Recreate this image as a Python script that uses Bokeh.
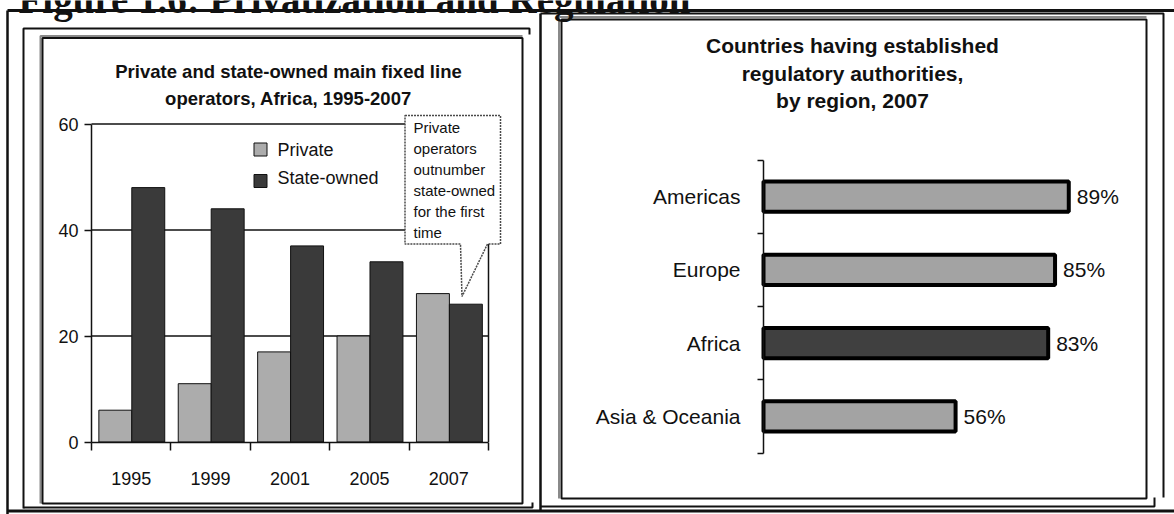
from bokeh.plotting import figure
from bokeh.models import Range1d, LinearAxis, FixedTicker, ColumnDataSource
from bokeh.transform import dodge
from bokeh.core.properties import value
from bokeh.embed import file_html
from bokeh.resources import INLINE

# ---------------- data ----------------
years = ["1995", "1999", "2001", "2005", "2007"]
series_names = ["Private", "State-owned"]
private_ops = [6, 11, 17, 20, 28]
state_ops = [48, 44, 37, 34, 26]
ops_ticks = [0, 20, 40, 60]

regions = ["Americas", "Europe", "Africa", "Asia & Oceania"]
regulator_share = [89, 85, 83, 56]
share_labels = [f"{v}%" for v in regulator_share]

fig_title = "Figure 1.6: Privatization and Regulation"
left_title = ["Private and state-owned main fixed line", "operators, Africa, 1995-2007"]
right_title = ["Countries having established", "regulatory authorities,", "by region, 2007"]
note_lines = ["Private", "operators", "outnumber", "state-owned", "for the first", "time"]

# ---------------- style ----------------
W, H = 1174, 514
SANS = "Liberation Sans"
SERIF = "Liberation Serif"
INK = "#111111"
LIGHT = "#acacac"
DARK = "#3a3a3a"
BAR_LIGHT = "#a3a3a3"
BAR_DARK = "#404040"


def mapped_range(v0, v1, px0, px1, total):
    """Range over the whole canvas that puts value v0 at pixel px0 and v1 at px1
    (pixels counted from the start side of the range)."""
    k = (px1 - px0) / (v1 - v0)
    start = v0 - px0 / k
    return Range1d(start=start, end=start + total / k)


# page canvas in pixel units (y grows downwards) for the frames and captions
p = figure(width=W, height=H, x_range=Range1d(0, W), y_range=Range1d(H, 0),
           x_axis_type=None, y_axis_type=None, output_backend="svg",
           toolbar_location=None, min_border=0)
p.title.visible = False
p.outline_line_color = None
p.background_fill_color = "white"
p.border_fill_color = "white"

n = len(years)
m = len(regions)

# data ranges of the two charts, laid onto their panels
p.extra_x_ranges = {
    "lx": mapped_range(0, n, 91, 488, W),
    "rx": mapped_range(0, 100, 763, 763 + 343, W),
}
p.extra_y_ranges = {
    "ly": mapped_range(0, ops_ticks[-1], H - 441.5, H - 123.5, H),
    "ry": mapped_range(0, m, H - 452.5, H - 159.5, H),
}

# ---------------- page frames ----------------
frame = ColumnDataSource(dict(
    xs=[[7, 1174], [7, 7], [7, 1174],
        [529, 529, 23, 23], [23, 532, 532],
        [540, 540], [540, 1163, 1163], [540, 1154, 1154]],
    ys=[[10, 10], [10, 514], [510.5, 510.5],
        [34, 28, 28, 508], [507, 507, 502],
        [510, 13], [13, 13, 497], [506, 506, 497]],
    lw=[3, 2.5, 3, 2, 2, 2.5, 2, 2],
))
p.multi_line(xs="xs", ys="ys", line_width="lw", line_color=INK, source=frame)

# panel boxes: grey rule outside, black rule inside
p.multi_line(xs=[[40, 40, 522], [558.5, 558.5, 1146]],
             ys=[[503, 35.5, 35.5], [498, 16.5, 16.5]],
             line_color="#8a8a8a", line_width=2)
p.quad(left=[42, 561], right=[522, 1146], top=[37.5, 19], bottom=[503, 498],
       fill_color=None, line_color=INK, line_width=2)

# figure caption, running off the top of the page
p.text(x=[18], y=[-1], text=[fig_title], text_font=value(SERIF),
       text_font_size="39px", text_font_style="bold", text_baseline="alphabetic",
       text_color=INK)

# ---------------- left chart: operators ----------------
p.text(x=[288, 288], y=[71, 97.5], text=left_title, text_font=value(SANS),
       text_font_size="18.5px", text_font_style="bold", text_align="center",
       text_baseline="middle", text_color=INK)

grid_vals = ops_ticks[1:]
p.segment(x0=[0] * len(grid_vals), x1=[n] * len(grid_vals), y0=grid_vals, y1=grid_vals,
          x_range_name="lx", y_range_name="ly", line_color=INK, line_width=1.5)
p.segment(x0=[n], x1=[n], y0=[0], y1=[ops_ticks[-1]],
          x_range_name="lx", y_range_name="ly", line_color=INK, line_width=1.5)

ops = ColumnDataSource(dict(pos=list(range(n)), private=private_ops, state=state_ops))
p.vbar(x=dodge("pos", 0.30), top="private", width=0.415, bottom=0, source=ops,
       x_range_name="lx", y_range_name="ly", fill_color=LIGHT, line_color=INK, line_width=1)
p.vbar(x=dodge("pos", 0.715), top="state", width=0.415, bottom=0, source=ops,
       x_range_name="lx", y_range_name="ly", fill_color=DARK, line_color=INK, line_width=1)

# legend
p.rect(x=[260, 260], y=[149, 180.5], width=13, height=13,
       fill_color=[LIGHT, DARK], line_color=INK, line_width=1)
p.text(x=[277, 277], y=[149.5, 177], text=series_names, text_font=value(SANS),
       text_font_size="18px", text_baseline="middle", text_color=INK)

# callout box with pointer
p.patch(x=[404.5, 500, 500, 487, 461.5, 460, 404.5],
        y=[115, 115, 243.5, 243.5, 296, 243.5, 243.5],
        fill_color="white", line_color="#4a4a4a", line_width=1.5, line_dash="2 1")
p.text(x=[413] * len(note_lines), y=[127 + 20.9 * i for i in range(len(note_lines))],
       text=note_lines, text_font=value(SANS), text_font_size="15px",
       text_baseline="middle", text_color=INK)

left_y = LinearAxis(x_range_name="lx", y_range_name="ly", fixed_location=0,
                    bounds=(0, ops_ticks[-1]), ticker=FixedTicker(ticks=ops_ticks))
left_x = LinearAxis(x_range_name="lx", y_range_name="ly", fixed_location=0, bounds=(0, n),
                    ticker=FixedTicker(ticks=[i + 0.5 for i in range(n)],
                                       minor_ticks=list(range(n + 1))),
                    major_label_overrides={i + 0.5: yr for i, yr in enumerate(years)})
for ax in (left_y, left_x):
    ax.axis_line_color = INK
    ax.axis_line_width = 1.5
    ax.major_label_text_font = SANS
    ax.major_label_text_font_size = "18px"
    ax.major_label_text_color = INK
    ax.major_tick_in = 0
    ax.minor_tick_in = 0
left_y.major_tick_out = 7
left_y.major_tick_line_color = INK
left_y.major_tick_line_width = 1.5
left_y.minor_tick_line_color = None
left_y.major_label_standoff = 6
left_x.major_tick_out = 0
left_x.major_tick_line_color = None
left_x.minor_tick_out = 8
left_x.minor_tick_line_color = INK
left_x.minor_tick_line_width = 1.5
left_x.major_label_standoff = 22
p.add_layout(left_y, "left")
p.add_layout(left_x, "below")

# ---------------- right chart: regulators ----------------
p.text(x=[852] * 3, y=[45, 73, 100], text=right_title, text_font=value(SANS),
       text_font_size="21px", text_font_style="bold", text_align="center",
       text_baseline="middle", text_color=INK)

reg = ColumnDataSource(dict(
    pos=[m - 1 - j + 0.5 for j in range(m)],
    share=regulator_share,
    label=share_labels,
    color=[BAR_DARK if r == "Africa" else BAR_LIGHT for r in regions],
))
p.hbar(y="pos", right="share", left=0, height=0.415, source=reg,
       x_range_name="rx", y_range_name="ry",
       fill_color="color", line_color="black", line_width=4)
p.text(x="share", y="pos", text="label", source=reg, x_offset=8,
       x_range_name="rx", y_range_name="ry", text_font=value(SANS),
       text_font_size="21px", text_baseline="middle", text_color=INK)

right_y = LinearAxis(x_range_name="rx", y_range_name="ry", fixed_location=0, bounds=(0, m),
                     ticker=FixedTicker(ticks=[j + 0.5 for j in range(m)],
                                        minor_ticks=list(range(m + 1))),
                     major_label_overrides={m - 1 - j + 0.5: r for j, r in enumerate(regions)})
right_y.axis_line_color = INK
right_y.axis_line_width = 1.5
right_y.major_tick_out = 0
right_y.major_tick_in = 0
right_y.major_tick_line_color = None
right_y.minor_tick_out = 6
right_y.minor_tick_in = 0
right_y.minor_tick_line_color = INK
right_y.minor_tick_line_width = 1.5
right_y.major_label_standoff = 17
right_y.major_label_text_font = SANS
right_y.major_label_text_font_size = "21px"
right_y.major_label_text_color = INK
p.add_layout(right_y, "left")

open("out.html", "w").write(file_html(p, INLINE))
